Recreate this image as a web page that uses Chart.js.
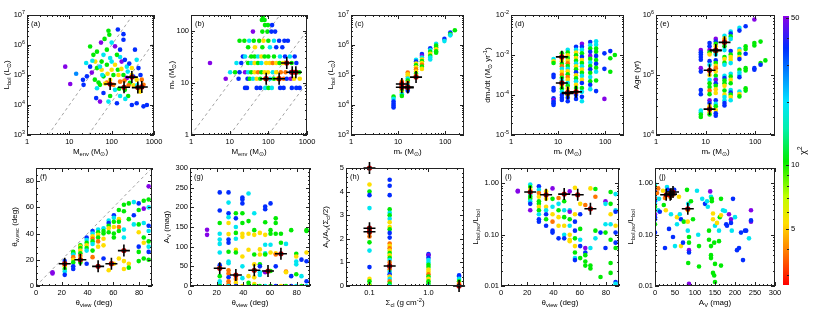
<!DOCTYPE html>
<html>
<head>
<meta charset="utf-8">
<script src="https://cdn.jsdelivr.net/npm/chart.js@4.4.1/dist/chart.umd.min.js"></script>
<style>
  body { margin: 0; background: #fff; }
  #wrap { position: relative; width: 830px; height: 318px; overflow: hidden; }
  #wrap canvas { position: absolute; }
</style>
</head>
<body>
<div id="wrap"></div>
<script>
// ---- data: [x, y, chi2] per model, best-fit models as [x, y] ----
const ptsA = [[8,1.9e5,50],[10.5,5e4,50],[14.5,1.1e5,27],[21.7,4.7e4,36],[21,6.9e4,36],[31,8.9e5,10.5],[31,1.9e5,36],[25,2.5e5,19],[34,1.2e5,50],[37,4.7e5,10.5],[41,2.8e5,5.3],[45,1.7e5,10.5],[49,5.6e4,10.5],[43,1.7e4,36],[53,1.3e4,50],[58,2.8e5,10.5],[58,1.5e5,5.3],[64,4.7e5,19],[84,3e6,10.5],[88,2.2e6,10.5],[56,1.2e6,50],[77,7e5,10.5],[92,3.7e5,19],[77,2.2e5,10.5],[100,1.5e5,5.3],[64,9e4,10.5],[77,5.6e4,3.8],[53,4.7e4,10.5],[110,4.7e4,3.8],[120,3.2e4,19],[92,2e4,10.5],[84,1.3e4,19],[133,1.15e4,36],[120,9e5,50],[158,7e5,36],[190,2.3e6,36],[190,1.5e6,36],[158,4e5,19],[172,2.8e5,50],[205,3.2e5,36],[228,1.9e5,19],[145,1e5,5.3],[190,1e5,10.5],[228,8e4,50],[270,5.5e4,10.5],[300,1e5,5.3],[158,6e4,3.8],[205,3.2e4,10.5],[245,2e4,10.5],[325,8.9e4,36],[355,7e5,36],[430,1.7e5,36],[390,3.2e5,19],[515,7e4,3.8],[565,4.7e4,3.8],[470,2.8e4,5.3],[390,1.15e4,36],[565,9e3,36],[680,1e4,36],[300,1e4,36],[53,1.9e5,19],[70,5.2e4,5.3],[92,6.9e4,5.3],[120,2.2e5,5.3],[133,4.7e5,10.5],[45,3.6e4,19],[64,2.5e4,36],[158,2e4,19],[26,9e4,36],[110,1e5,10.5],[300,1.7e5,5.3],[390,6.9e4,5.3],[40,7e4,10.5],[60,1e5,19],[80,1.1e5,5.3],[100,2.8e5,19],[140,1.5e5,10.5],[170,1.6e5,5.3],[200,6.5e4,3.8],[240,1.3e5,19],[260,2.4e5,36],[330,4.5e4,5.3],[150,3.5e4,10.5],[250,4.5e4,3.8],[400,4.5e4,19],[480,1e5,36],[35,3e5,19],[68,1.6e6,10.5],[100,1.2e6,19],[45,6e5,10.5],[140,3.3e6,36],[210,1.6e4,19]];
const bestA = [[92,5e4],[196,3.9e4],[300,8.5e4],[415,3.8e4],[515,4e4]];
const guideA = [[[3.16,1e3],[316,1e7]], [[28,1e3],[1000,1.27e6]]];

const ptsB = [[25,8,36],[28,8,36],[50,8,36],[62,8,36],[83,8,19],[101,8,10.5],[123,8,19],[202,8,36],[248,8,36],[405,8,36],[529,8,36],[645,8,36],
  [7.9,12,50],[17,12,36],[29,12,36],[33,12,10.5],[40,12,19],[50,12,5.3],[62,12,10.5],[83,12,3.8],[110,12,19],[140,12,10.5],[170,12,5.3],[190,12,5.3],[250,12,3.8],[300,12,36],[380,12,50],[460,12,5.3],[650,12,5.3],
  [10.3,16,19],[13.8,16,10.5],[18,16,36],[25,16,50],[30,16,19],[36,16,10.5],[44,16,5.3],[54,16,3.8],[66,16,10.5],[80,16,5.3],[98,16,5.3],[130,16,19],[160,16,5.3],[210,16,3.8],[280,16,3.8],[380,16,36],[500,16,3.8],[630,16,10.5],
  [3.1,24,50],[15,24,19],[20,24,36],[30,24,10.5],[36,24,19],[44,24,5.3],[54,24,10.5],[66,24,19],[88,24,5.3],[108,24,5.3],[130,24,3.8],[160,24,5.3],[195,24,10.5],[240,24,5.3],[300,24,3.8],[400,24,10.5],[530,24,36],
  [22,32,36],[25,32,19],[36,32,10.5],[44,32,10.5],[54,32,19],[66,32,5.3],[80,32,10.5],[100,32,10.5],[140,32,10.5],[200,32,19],[270,32,36],[360,32,19],[480,32,36],
  [30,48,10.5],[45,48,5.3],[70,48,10.5],[110,48,19],[160,48,36],[230,48,36],
  [18,64,10.5],[24,64,10.5],[32,64,19],[42,64,10.5],[58,64,10.5],[75,64,5.3],[100,64,10.5],[140,64,19],[190,64,36],[260,64,36],[320,64,36],
  [40,96,50],[70,96,10.5],[95,96,10.5],[120,96,36],[150,96,36],
  [82,128,10.5],[98,128,10.5],[125,128,36],[68,160,10.5],[80,160,10.5],[72,190,10.5]];
const bestB = [[88,12],[190,12],[300,24],[415,16],[515,16]];
const guideB = [[[1,1],[200,200]], [[10,1],[1000,100]], [[100,1],[1000,10]]];

const ptsC = [[8,1.9e4,10.5],[8,1.6e4,19],[8,1.3e4,36],[8,1.1e4,36],[8,9.5e3,36],[8,8.3e3,36],
  [12,6e4,3.8],[12,5.3e4,2.9],[12,4.6e4,3.8],[12,4e4,5.3],[12,3.5e4,5.3],[12,3e4,10.5],[12,2.6e4,5.3],[12,2.3e4,19],[12,2e4,10.5],
  [16,1.2e5,3.8],[16,1.05e5,5.3],[16,9e4,5.3],[16,7.6e4,19],[16,6.5e4,10.5],[16,5.5e4,3.8],[16,4.7e4,19],[16,4e4,10.5],[16,3.5e4,36],[16,3e4,36],
  [24,3.2e5,19],[24,2.8e5,36],[24,2.4e5,5.3],[24,2.1e5,10.5],[24,1.8e5,5.3],[24,1.55e5,3.8],[24,1.3e5,5.3],[24,1.1e5,10.5],[24,9.5e4,3.8],
  [32,5e5,36],[32,4.4e5,50],[32,3.8e5,19],[32,3.3e5,5.3],[32,2.9e5,10.5],[32,2.5e5,5.3],[32,2.2e5,3.8],[32,1.9e5,10.5],[32,1.6e5,5.3],
  [48,7.8e5,36],[48,6.8e5,19],[48,5.9e5,10.5],[48,5.1e5,5.3],[48,4.4e5,10.5],[48,3.8e5,19],[48,3.3e5,19],
  [64,1.1e6,19],[64,9.5e5,10.5],[64,8.3e5,10.5],[64,7.2e5,5.3],[64,6.2e5,10.5],[64,5.5e5,10.5],
  [96,1.6e6,36],[96,1.35e6,19],[128,2.6e6,36],[128,2.3e6,10.5],[128,2.1e6,19],[160,3.1e6,10.5]];
const bestC = [[12,5e4],[12,3.9e4],[24,8.5e4],[16,3.8e4],[16,4e4]];

const ptsD = [[8,7.9e-4,19],[8,7e-4,5.3],[8,6.3e-4,10.5],[8,3.2e-4,36],[8,2.8e-4,36],[8,1.5e-4,36],[8,1.3e-4,36],[8,8.3e-5,36],[8,7.5e-5,50],[8,6.8e-5,36],[8,6.2e-5,36],[8,5.6e-5,36],
  [12,1.1e-3,10.5],[12,9.5e-4,5.3],[12,8.2e-4,3.8],[12,7e-4,5.3],[12,6e-4,10.5],[12,5.2e-4,3.8],[12,4.5e-4,19],[12,3.8e-4,5.3],[12,3.2e-4,3.8],[12,2.7e-4,10.5],[12,2.3e-4,19],[12,2e-4,36],[12,1.7e-4,5.3],[12,1.45e-4,10.5],[12,1.2e-4,19],[12,1e-4,36],[12,8.5e-5,36],[12,7.5e-5,36],
  [16,1.35e-3,19],[16,1.15e-3,10.5],[16,9.8e-4,5.3],[16,8.4e-4,10.5],[16,7.2e-4,5.3],[16,6.2e-4,3.8],[16,5.3e-4,10.5],[16,4.5e-4,19],[16,3.9e-4,5.3],[16,3.3e-4,10.5],[16,2.8e-4,3.8],[16,2.4e-4,5.3],[16,2e-4,19],[16,1.7e-4,10.5],[16,1.45e-4,5.3],[16,1.2e-4,3.8],[16,1e-4,10.5],[16,8.5e-5,36],[16,7e-5,36],
  [24,1.6e-3,36],[24,1.35e-3,19],[24,1.15e-3,5.3],[24,9.8e-4,10.5],[24,8.4e-4,5.3],[24,7.2e-4,10.5],[24,6.1e-4,19],[24,5.2e-4,5.3],[24,4.4e-4,10.5],[24,3.7e-4,36],[24,3.1e-4,5.3],[24,2.6e-4,10.5],[24,2.2e-4,19],[24,1.8e-4,5.3],[24,1.5e-4,10.5],[24,1.25e-4,3.8],[24,1e-4,36],[24,8e-5,36],
  [32,1.9e-3,50],[32,1.6e-3,36],[32,1.35e-3,19],[32,1.1e-3,10.5],[32,9e-4,36],[32,7.5e-4,5.3],[32,6.3e-4,10.5],[32,5.2e-4,19],[32,4.3e-4,5.3],[32,3.6e-4,10.5],[32,3e-4,19],[32,2.4e-4,5.3],[32,2e-4,36],[32,1.5e-4,10.5],[32,1.2e-4,19],[32,9e-5,36],[32,7e-5,19],
  [48,2.1e-3,36],[48,1.75e-3,19],[48,1.45e-3,10.5],[48,1.2e-3,36],[48,9.5e-4,50],[48,8e-4,10.5],[48,6.5e-4,19],[48,5.3e-4,10.5],[48,4.4e-4,36],[48,3.6e-4,10.5],[48,2.8e-4,19],[48,2.2e-4,10.5],[48,1.8e-4,36],[48,1.4e-4,19],
  [64,2.2e-3,19],[64,1.8e-3,19],[64,1.45e-3,10.5],[64,1.2e-3,10.5],[64,9.5e-4,36],[64,7.5e-4,10.5],[64,6e-4,36],[64,4.8e-4,10.5],[64,3.8e-4,19],[64,2.3e-4,10.5],[64,1.25e-4,36],
  [96,1.1e-3,36],[96,4.5e-4,36],[96,8e-5,50],[128,1.25e-3,36],[128,8.3e-4,10.5],[128,3.8e-4,10.5],[160,1e-3,10.5]];
const bestD = [[12,9e-4],[12,2e-4],[16,1.15e-4],[16,1.1e-4],[24,1.2e-4]];

const ptsE = [[8,2.6e5,50],[8,2.4e5,36],[8,2.2e5,36],[8,2.0e5,36],[8,1.8e5,36],[8,1.3e5,50],[8,1.14e5,36],[8,5.6e4,36],[8,4.8e4,36],[8,2.55e4,19],[8,2.4e4,19],[8,2.2e4,10.5],[8,2.0e4,10.5],
  [12,3.4e5,36],[12,3.0e5,36],[12,2.6e5,50],[12,2.4e5,10.5],[12,2.2e5,5.3],[12,1.7e5,36],[12,1.48e5,19],[12,1.19e5,3.8],[12,1.0e5,5.3],[12,8.3e4,19],[12,7.3e4,10.5],[12,6.3e4,10.5],[12,5.5e4,3.8],[12,4.8e4,10.5],[12,3.8e4,50],[12,3.4e4,36],[12,3.0e4,5.3],[12,2.7e4,3.8],[12,2.4e4,5.3],[12,2.2e4,10.5],
  [16,4.0e5,50],[16,3.6e5,36],[16,3.3e5,10.5],[16,3.0e5,5.3],[16,2.6e5,3.8],[16,2.4e5,10.5],[16,2.2e5,19],[16,1.75e5,36],[16,1.58e5,10.5],[16,1.42e5,5.3],[16,1.3e5,3.8],[16,1.14e5,5.3],[16,9.7e4,10.5],[16,8.5e4,19],[16,8.3e4,50],[16,7.3e4,36],[16,6.6e4,10.5],[16,5.8e4,5.3],[16,5.0e4,5.3],[16,3.8e4,36],[16,3.3e4,19],[16,3.0e4,10.5],[16,2.6e4,5.3],[16,2.3e4,36],[16,2.1e4,36],
  [24,4.5e5,19],[24,4.1e5,5.3],[24,3.8e5,3.8],[24,3.4e5,10.5],[24,3.0e5,10.5],[24,2.6e5,19],[24,2.0e5,10.5],[24,1.84e5,5.3],[24,1.6e5,10.5],[24,1.48e5,19],[24,9.7e4,19],[24,8.9e4,36],[24,8.1e4,10.5],[24,7.3e4,10.5],[24,6.6e4,5.3],[24,5.5e4,10.5],[24,4.7e4,5.3],[24,4.3e4,19],[24,3.8e4,19],[24,3.4e4,36],[24,3.1e4,36],
  [32,5.3e5,19],[32,4.9e5,36],[32,4.4e5,10.5],[32,4.0e5,19],[32,2.5e5,36],[32,2.2e5,10.5],[32,2.0e5,5.3],[32,1.8e5,5.3],[32,1.58e5,19],[32,1.05e5,19],[32,9.4e4,10.5],[32,8.3e4,5.3],[32,7.3e4,10.5],[32,5.6e4,19],[32,5.1e4,36],[32,4.7e4,10.5],[32,4.3e4,5.3],[32,3.8e4,19],
  [48,6.1e5,19],[48,5.5e5,36],[48,2.7e5,19],[48,2.5e5,5.3],[48,2.26e5,10.5],[48,2.0e5,5.3],[48,1.84e5,36],[48,1.22e5,10.5],[48,1.1e5,19],[48,1.0e5,19],[48,9.2e4,36],[48,5.3e4,19],[48,4.8e4,5.3],[48,4.4e4,10.5],
  [64,6.5e5,36],[64,3.0e5,10.5],[64,2.7e5,10.5],[64,2.26e5,36],[64,1.3e5,10.5],[64,1.19e5,10.5],[64,6.0e4,10.5],[64,5.5e4,10.5],
  [96,8.4e5,50],[96,3.4e5,10.5],[96,3.1e5,10.5],[96,1.3e5,36],[96,1.22e5,36],[128,3.6e5,10.5],[128,1.58e5,10.5],[128,1.48e5,36],[160,1.75e5,10.5]];
const bestE = [[12,1.2e5],[16,2.6e5],[24,3.5e5],[12,2.7e4],[16,2.55e5]];

const ptsF = [[12.8,10.5,50],[12.8,9.5,50],
  [22.3,19,36],[22.3,17,10.5],[22.3,15,5.3],[22.3,13,10.5],[22.3,11,19],[22.3,8.5,36],
  [28.9,26,10.5],[28.9,25,10.5],[28.9,24,19],[28.9,22,3.8],[28.9,20,5.3],[28.9,18,10.5],[28.9,15,36],[28.9,13,36],
  [34.4,31,10.5],[34.4,30,5.3],[34.4,29,10.5],[34.4,27,5.3],[34.4,25,10.5],[34.4,23,3.8],[34.4,21,5.3],[34.4,19,5.3],[34.4,18,10.5],
  [39.3,37,36],[39.3,35,19],[39.3,33,10.5],[39.3,31,5.3],[39.3,29,10.5],[39.3,27,19],[39.3,17,36],
  [43.9,42,36],[43.9,40,19],[43.9,38,5.3],[43.9,36,3.8],[43.9,34,10.5],[43.9,32,19],[43.9,27,10.5],[43.9,22,3.8],
  [48.2,43,19],[48.2,41,10.5],[48.2,39,5.3],[48.2,37,10.5],[48.2,34,3.8],[48.2,30,5.3],
  [52.4,44,19],[52.4,42,10.5],[52.4,40,10.5],[52.4,36,5.3],[52.4,31,5.3],[52.4,21,36],
  [56.4,50,19],[56.4,48,36],[56.4,46,10.5],[56.4,44,5.3],[56.4,41,10.5],[56.4,12,5.3],
  [60.4,54,36],[60.4,52,19],[60.4,49,10.5],[60.4,45,5.3],[60.4,40,10.5],[60.4,37,10.5],[60.4,17,5.3],
  [64.3,58,10.5],[64.3,51,5.3],[64.3,49,10.5],[64.3,45,3.8],[64.3,42,10.5],[64.3,21,5.3],
  [68.2,62,10.5],[68.2,57,10.5],[68.2,43,19],[68.2,37,19],[68.2,19,5.3],[68.2,13,5.3],
  [72,63,10.5],[72,51,10.5],[72,17,5.3],[72,14,10.5],[75.9,64,19],[75.9,54,36],[75.9,47,19],
  [79.7,63,36],[79.7,58,10.5],[79.7,47,10.5],[79.7,41,5.3],[79.7,30,36],[79.7,26,10.5],[79.7,19,10.5],
  [83.6,65,10.5],[83.6,59,50],[83.6,48,19],[83.6,37,10.5],[83.6,33,5.3],[83.6,21,10.5],
  [87.4,76,50],[87.4,66,10.5],[87.4,60,19],[87.4,46,36],[87.4,42,19],[87.4,34,10.5],[87.4,30,19],[87.4,26,36],[87.4,20,10.5]];
const bestF = [[22.3,17],[34.4,20],[48.2,15],[58.5,17],[68.2,27]];
const guideF = [[[0,0],[90,90]]];

const ptsG = [[12.8,143,50],[12.8,130,50],
  [22.3,238,36],[22.3,192,36],[22.3,160,10.5],[22.3,133,19],[22.3,118,19],[22.3,107,19],[22.3,85,19],[22.3,53,36],[22.3,45,3.8],[22.3,25,10.5],[22.3,12,19],[22.3,5,19],[22.3,0,10.5],
  [28.9,238,36],[28.9,212,19],[28.9,185,36],[28.9,175,19],[28.9,160,5.3],[28.9,132,5.3],[28.9,118,36],[28.9,110,36],[28.9,87,10.5],[28.9,62,19],[28.9,58,19],[28.9,40,3.8],[28.9,32,3.8],[28.9,22,36],[28.9,12,3.8],[28.9,5,3.8],[28.9,0,19],
  [34.4,185,10.5],[34.4,172,36],[34.4,150,19],[34.4,135,10.5],[34.4,120,19],[34.4,92,5.3],[34.4,85,10.5],[34.4,28,3.8],[34.4,18,3.8],[34.4,8,5.3],[34.4,0,36],
  [39.3,225,36],[39.3,220,36],[39.3,210,36],[39.3,185,10.5],[39.3,160,10.5],[39.3,133,5.3],[39.3,125,5.3],[39.3,75,5.3],[39.3,50,19],[39.3,20,19],[39.3,0,5.3],
  [43.9,235,19],[43.9,165,10.5],[43.9,133,5.3],[43.9,92,5.3],[43.9,25,5.3],[43.9,8,10.5],[43.9,0,10.5],
  [48.2,185,19],[48.2,142,10.5],[48.2,130,5.3],[48.2,80,10.5],[48.2,55,5.3],[48.2,40,19],[48.2,22,5.3],[48.2,5,5.3],[48.2,0,10.5],
  [52.4,135,5.3],[52.4,93,5.3],[52.4,80,5.3],[52.4,55,10.5],[52.4,50,36],[52.4,35,19],[52.4,28,19],[52.4,0,10.5],
  [56.4,202,36],[56.4,195,36],[56.4,162,10.5],[56.4,130,5.3],[56.4,105,19],[56.4,83,19],[56.4,80,10.5],[56.4,35,50],[56.4,0,19],
  [60.4,210,36],[60.4,142,10.5],[60.4,133,10.5],[60.4,105,19],[60.4,85,5.3],[60.4,38,10.5],[60.4,0,10.5],
  [64.3,172,10.5],[64.3,160,10.5],[64.3,133,10.5],[64.3,83,5.3],[64.3,80,3.8],[64.3,50,36],[64.3,0,36],
  [68.2,133,10.5],[68.2,110,10.5],[68.2,82,36],[68.2,0,5.3],[72,107,19],[72,37,3.8],[72,35,5.3],[72,0,10.5],
  [75.9,142,10.5],[75.9,25,36],[75.9,0,36],[79.7,82,10.5],[79.7,75,5.3],[79.7,62,19],[79.7,55,19],[79.7,30,10.5],[79.7,0,19],
  [83.6,67,36],[83.6,25,19],[83.6,0,10.5],[87.4,142,10.5],[87.4,140,10.5],[87.4,85,5.3],[87.4,63,36],[87.4,12,36],[87.4,0,19]];
const bestG = [[22.3,45],[34.4,28],[48.2,40],[58.5,38],[68.2,82]];

const ptsH = [[0.1,5,3.8],[0.1,4.3,5.3],[0.1,4,10.5],[0.1,3.85,36],[0.1,3.3,19],[0.1,2.25,3.8],[0.1,2.1,3.8],[0.1,1.85,10.5],[0.1,1.5,19],[0.1,0.8,36],[0.1,0.3,5.3],[0.1,0.2,10.5],[0.1,0.05,10.5],[0.1,0,5.3],
  [0.22,4.5,36],[0.22,4.25,36],[0.22,3.85,36],[0.22,3.25,10.5],[0.22,3.1,19],[0.22,3,10.5],[0.22,2.85,19],[0.22,2.7,5.3],[0.22,2.5,5.3],[0.22,2.4,10.5],[0.22,2.25,36],[0.22,2.05,36],[0.22,1.8,3.8],[0.22,1.7,5.3],[0.22,1.6,3.8],[0.22,1.5,5.3],[0.22,1.4,10.5],[0.22,1.3,5.3],[0.22,1.2,10.5],[0.22,1.1,19],[0.22,1,3.8],[0.22,0.8,36],[0.22,0.7,3.8],[0.22,0.6,19],[0.22,0.5,36],[0.22,0.4,5.3],[0.22,0.3,19],[0.22,0.2,3.8],[0.22,0.1,10.5],[0.22,0,19],
  [1,1.35,36],[1,1.3,50],[1,1.2,36],[1,1.1,19],[1,1,19],[1,0.9,10.5],[1,0.8,10.5],[1,0.7,5.3],[1,0.6,5.3],[1,0.5,3.8],[1,0.4,10.5],[1,0.3,5.3],[1,0.2,10.5],[1,0.1,10.5],[1,0,19],
  [3.3,0.45,36],[3.3,0.4,36],[3.3,0.3,19],[3.3,0.2,10.5],[3.3,0.1,3.8],[3.3,0.05,3.8],[3.3,0,2.9]];
const bestH = [[0.1,5],[0.1,2.45],[0.1,2.3],[0.22,0.85],[3.3,0]];

const ptsI = [[12.8,0.72,50],[12.8,0.7,50],
  [22.3,0.95,19],[22.3,0.85,10.5],[22.3,0.75,5.3],[22.3,0.6,19],[22.3,0.55,10.5],[22.3,0.5,10.5],[22.3,0.45,19],[22.3,0.4,36],[22.3,0.3,50],
  [28.9,0.88,36],[28.9,0.75,19],[28.9,0.65,3.8],[28.9,0.55,5.3],[28.9,0.45,10.5],[28.9,0.4,10.5],[28.9,0.35,5.3],[28.9,0.3,10.5],[28.9,0.25,19],[28.9,0.2,36],[28.9,0.18,36],
  [34.4,0.7,5.3],[34.4,0.5,5.3],[34.4,0.35,5.3],[34.4,0.3,19],[34.4,0.25,36],[34.4,0.2,10.5],[34.4,0.15,36],
  [39.3,0.8,50],[39.3,0.5,10.5],[39.3,0.35,19],[39.3,0.25,5.3],[39.3,0.18,3.8],[39.3,0.12,36],[39.3,0.11,36],
  [43.9,0.52,3.8],[43.9,0.4,19],[43.9,0.3,10.5],[43.9,0.22,5.3],[43.9,0.15,5.3],[43.9,0.085,36],
  [48.2,0.45,10.5],[48.2,0.3,19],[48.2,0.22,10.5],[48.2,0.15,5.3],[48.2,0.1,19],[48.2,0.085,36],
  [52.4,0.7,50],[52.4,0.3,19],[52.4,0.28,50],[52.4,0.2,10.5],[52.4,0.15,19],[52.4,0.1,5.3],[52.4,0.08,5.3],[52.4,0.075,5.3],
  [56.4,0.82,5.3],[56.4,0.25,5.3],[56.4,0.18,36],[56.4,0.12,36],[56.4,0.085,10.5],[56.4,0.06,5.3],[56.4,0.045,10.5],[56.4,0.035,19],[56.4,0.032,36],
  [60.4,0.4,5.3],[60.4,0.25,36],[60.4,0.13,10.5],[60.4,0.08,19],[60.4,0.06,36],[60.4,0.035,10.5],
  [64.3,0.38,3.8],[64.3,0.055,50],[64.3,0.045,36],[64.3,0.04,10.5],[64.3,0.03,10.5],[64.3,0.025,10.5],
  [68.2,0.8,5.3],[68.2,0.055,19],[68.2,0.025,10.5],[68.2,0.022,10.5],[72,0.78,10.5],[72,0.55,3.8],[72,0.12,10.5],[72,0.085,19],
  [75.9,0.11,36],[75.9,0.015,10.5],[79.7,0.45,50],[79.7,0.4,19],[79.7,0.16,19],[79.7,0.11,10.5],[79.7,0.055,36],
  [83.6,0.68,10.5],[83.6,0.4,10.5],[83.6,0.25,5.3],[83.6,0.16,19],[83.6,0.08,10.5],[83.6,0.028,10.5],[83.6,0.018,10.5],
  [87.4,0.62,19],[87.4,0.3,19],[87.4,0.28,36],[87.4,0.15,5.3],[87.4,0.11,36],[87.4,0.07,36],[87.4,0.055,10.5],[87.4,0.012,36],[87.4,0.011,19]];
const bestI = [[22.3,0.68],[34.4,0.6],[48.2,0.62],[58.5,0.6],[68.2,0.32]];

const ptsJ = [[0,0.95,19],[0,0.85,10.5],[0,0.75,36],[0,0.65,3.8],[0,0.55,19],[0,0.5,2.9],[0,0.45,36],[0,0.4,19],[0,0.35,10.5],[0,0.3,5.3],[0,0.25,50],[0,0.22,36],[0,0.2,36],[0,0.16,10.5],[0,0.11,36],
  [5,0.65,3.8],[8,0.8,3.8],[8,0.3,19],[10,0.5,19],[12,0.28,36],[20,0.72,5.3],[22,0.38,10.5],[25,0.52,3.8],[25,0.055,36],[27,0.3,5.3],[30,0.85,19],[32,0.75,36],[35,0.6,3.8],[35,0.13,36],
  [38,0.55,3.8],[40,0.65,3.8],[42,0.7,3.8],[45,0.6,3.8],[45,0.09,36],[40,0.25,19],[48,0.75,36],[50,0.06,19],[55,0.22,5.3],[55,0.16,19],[60,0.55,5.3],[62,0.25,19],[65,0.2,36],[65,0.06,5.3],
  [70,0.07,36],[72,0.18,10.5],[80,0.75,10.5],[82,0.3,5.3],[82,0.18,5.3],[82,0.12,19],[83,0.4,19],[85,0.09,10.5],[85,0.05,50],[85,0.045,36],[83,0.028,10.5],[85,0.011,50],[90,0.45,10.5],[85,0.07,10.5],
  [95,0.2,10.5],[105,0.72,19],[108,0.1,19],[110,0.06,10.5],[110,0.024,10.5],[118,0.5,19],[125,0.4,36],[130,0.45,19],[132,0.35,19],[135,0.12,10.5],[135,0.08,10.5],[138,0.7,50],
  [140,0.55,19],[140,0.06,10.5],[140,0.04,10.5],[140,0.035,10.5],[142,0.5,10.5],[142,0.45,10.5],[145,0.26,5.3],[145,0.2,5.3],[150,0.15,19],[148,0.07,10.5],[150,0.027,10.5],[145,0.018,10.5],
  [148,0.016,10.5],[150,0.012,10.5],[155,0.17,5.3],[160,0.075,10.5],[160,0.12,19],[162,0.22,10.5],[165,0.5,10.5],[165,0.24,5.3],[165,0.025,10.5],[170,0.3,19],[175,0.29,19],[178,0.16,36],
  [180,0.15,36],[185,0.25,50],[190,0.2,50],[190,0.17,36],[192,0.12,19],[195,0.5,36],[200,0.22,19],[205,0.05,36],[210,0.055,36],[215,0.11,36],[225,0.12,36],[228,0.12,36],[235,0.085,19],
  [240,0.3,50],[240,0.18,50],[240,0.19,36],[220,0.032,36]];
const bestJ = [[45,0.68],[28,0.6],[40,0.62],[38,0.6],[82,0.32]];

// colour bar range and tick values
const chiRange = [2.7, 51];
const chiTicks = [5, 10, 50];
const chiMinor = [3, 4, 6, 7, 8, 9, 20, 30, 40];

// ---- styling helpers ----
const FONT = '"Liberation Sans", Arial, sans-serif';
const CMAP = [[0,255,0,0],[0.12,255,120,0],[0.23,255,222,0],[0.33,190,255,0],[0.46,0,235,0],[0.58,0,240,170],[0.68,0,228,255],[0.78,0,140,255],[0.88,0,45,255],[1,140,0,230]];

function chiColor(c) {
  let t = Math.log(c / chiRange[0]) / Math.log(chiRange[1] / chiRange[0]);
  t = Math.max(0, Math.min(1, t));
  for (let i = 1; i < CMAP.length; i++) {
    if (t <= CMAP[i][0]) {
      const a = CMAP[i - 1], b = CMAP[i], f = (t - a[0]) / (b[0] - a[0]);
      const ch = k => Math.round(a[k] + (b[k] - a[k]) * f);
      return `rgb(${ch(1)},${ch(2)},${ch(3)})`;
    }
  }
  return 'rgb(140,0,230)';
}

function logMinor(min, max) {
  const out = [];
  for (let e = Math.floor(Math.log10(min)); e <= Math.ceil(Math.log10(max)); e++)
    for (let m = 2; m <= 9; m++) {
      const v = m * Math.pow(10, e);
      if (v > min && v < max) out.push(v);
    }
  return out;
}
function linMinor(min, max, step) {
  const out = [];
  for (let v = min; v <= max + 1e-9; v += step) out.push(v);
  return out;
}
const pow10 = (a, b) => { const o = []; for (let e = a; e <= b; e++) o.push([Math.pow(10, e), '10^{' + e + '}']); return o; };
const plain = vals => vals.map(v => [v, String(v)]);

function parseRich(s) {
  const parts = []; let buf = '', i = 0;
  while (i < s.length) {
    const ch = s[i];
    if ((ch === '_' || ch === '^') && s[i + 1] === '{') {
      if (buf) parts.push([buf, 0]);
      buf = '';
      const end = s.indexOf('}', i);
      parts.push([s.slice(i + 2, end), ch === '_' ? -1 : 1]);
      i = end + 1;
    } else { buf += ch; i++; }
  }
  if (buf) parts.push([buf, 0]);
  return parts;
}
function drawRich(ctx, s, x, y, size, align, rot) {
  const parts = parseRich(s), small = size * 0.72;
  const w = parts.map(([t, k]) => { ctx.font = (k ? small : size) + 'px ' + FONT; return ctx.measureText(t).width; });
  const total = w.reduce((p, q) => p + q, 0);
  ctx.save();
  ctx.translate(x, y);
  if (rot) ctx.rotate(rot);
  let cx = align === 'right' ? -total : align === 'left' ? 0 : -total / 2;
  ctx.textBaseline = 'middle'; ctx.textAlign = 'left'; ctx.fillStyle = '#000';
  parts.forEach(([t, k], i) => {
    ctx.font = (k ? small : size) + 'px ' + FONT;
    ctx.fillText(t, cx, k < 0 ? size * 0.3 : k > 0 ? -size * 0.38 : 0);
    cx += w[i];
  });
  ctx.restore();
}

const LOGX_MSTAR = { type: 'logarithmic', min: 1, max: 250, major: plain([1, 10, 100]) };
const LOGX_MENV = { type: 'logarithmic', min: 1, max: 1000, major: plain([1, 10, 100, 1000]) };
const LINX_VIEW = { type: 'linear', min: 0, max: 90, major: plain([0, 20, 40, 60, 80]), step: 5 };
const LOGY_RATIO = { type: 'logarithmic', min: 0.01, max: 2, major: [[1, '1.00'], [0.1, '0.10'], [0.01, '0.01']] };

const panels = [
  { id: 'a', box: [27, 15, 154, 135], x: LOGX_MENV, y: { type: 'logarithmic', min: 1e3, max: 1e7, major: pow10(3, 7) },
    xt: 'M_{env} (M_{⊙})', yt: 'L_{bol} (L_{⊙})', yOff: 20, pts: ptsA, best: bestA, guides: guideA },
  { id: 'b', box: [191, 15, 307, 135], x: LOGX_MENV, y: { type: 'logarithmic', min: 1, max: 200, major: plain([1, 10, 100]) },
    xt: 'M_{env} (M_{⊙})', yt: 'm_{*} (M_{⊙})', yOff: 19, pts: ptsB, best: bestB, guides: guideB },
  { id: 'c', box: [351, 15, 464, 135], x: LOGX_MSTAR, y: { type: 'logarithmic', min: 1e3, max: 1e7, major: pow10(3, 7) },
    xt: 'm_{*} (M_{⊙})', yt: 'L_{bol} (L_{⊙})', yOff: 20, pts: ptsC, best: bestC },
  { id: 'd', box: [511, 15, 624, 135], x: LOGX_MSTAR, y: { type: 'logarithmic', min: 1e-5, max: 1e-2, major: pow10(-5, -2) },
    xt: 'm_{*} (M_{⊙})', yt: 'dm_{*}/dt (M_{⊙} yr^{-1})', yOff: 23, pts: ptsD, best: bestD },
  { id: 'e', box: [656, 15, 775, 135], x: LOGX_MSTAR, y: { type: 'logarithmic', min: 1e4, max: 1e6, major: pow10(4, 6) },
    xt: 'm_{*} (M_{⊙})', yt: 'Age (yr)', yOff: 19, pts: ptsE, best: bestE },
  { id: 'f', box: [36, 168, 152, 286], x: LINX_VIEW, y: { type: 'linear', min: 0, max: 90, major: plain([0, 20, 40, 60, 80]), step: 5 },
    xt: 'θ_{view} (deg)', yt: 'θ_{w,esc} (deg)', yOff: 21, pts: ptsF, best: bestF, guides: guideF },
  { id: 'g', box: [190, 168, 310, 286], x: LINX_VIEW, y: { type: 'linear', min: 0, max: 300, major: plain([0, 50, 100, 150, 200, 250, 300]), step: 10 },
    xt: 'θ_{view} (deg)', yt: 'A_{V} (mag)', yOff: 23, pts: ptsG, best: bestG },
  { id: 'h', box: [346, 168, 464, 286], x: { type: 'logarithmic', min: 0.04, max: 4, major: [[0.1, '0.1'], [1, '1.0']] },
    y: { type: 'linear', min: 0, max: 5, major: plain([0, 1, 2, 3, 4, 5]), step: 0.2 },
    xt: 'Σ_{cl} (g cm^{-2})', yt: 'A_{V}/A_{V}(Σ_{cl}/2)', yOff: 20, pts: ptsH, best: bestH },
  { id: 'i', box: [501, 168, 619, 286], x: LINX_VIEW, y: LOGY_RATIO,
    xt: 'θ_{view} (deg)', yt: 'L_{bol,iso}/L_{bol}', yOff: 25, pts: ptsI, best: bestI },
  { id: 'j', box: [655, 168, 775, 286], x: { type: 'linear', min: 0, max: 300, major: plain([0, 50, 100, 150, 200, 250, 300]), step: 10 }, y: LOGY_RATIO,
    xt: 'A_{V} (mag)', yt: 'L_{bol,iso}/L_{bol}', yOff: 24, pts: ptsJ, best: bestJ }
];

const PAD = { left: 34, right: 14, top: 8, bottom: 26 };
const specs = {};

const idlPlugin = {
  id: 'idlFrame',
  afterDraw(chart) {
    const p = specs[chart.canvas.id];
    if (!p) return;
    const { ctx, chartArea: a } = chart;
    const xs = chart.scales.x, ys = chart.scales.y;
    const minorOf = ax => ax.type === 'logarithmic' ? logMinor(ax.min, ax.max) : linMinor(ax.min, ax.max, ax.step);
    ctx.save();
    ctx.strokeStyle = '#222';
    ctx.lineWidth = 1;
    ctx.beginPath();
    const tickX = (v, len) => {
      const px = Math.round(xs.getPixelForValue(v)) + 0.5;
      ctx.moveTo(px, a.bottom); ctx.lineTo(px, a.bottom - len);
      ctx.moveTo(px, a.top); ctx.lineTo(px, a.top + len);
    };
    const tickY = (v, len) => {
      const py = Math.round(ys.getPixelForValue(v)) + 0.5;
      ctx.moveTo(a.left, py); ctx.lineTo(a.left + len, py);
      ctx.moveTo(a.right, py); ctx.lineTo(a.right - len, py);
    };
    minorOf(p.x).forEach(v => tickX(v, 2));
    minorOf(p.y).forEach(v => tickY(v, 2));
    p.x.major.forEach(([v]) => tickX(v, 4));
    p.y.major.forEach(([v]) => tickY(v, 4));
    ctx.stroke();
    ctx.strokeRect(a.left + 0.5, a.top + 0.5, a.right - a.left - 1, a.bottom - a.top - 1);
    p.x.major.forEach(([v, lab]) => drawRich(ctx, lab, xs.getPixelForValue(v), a.bottom + 7, 7.5, 'center'));
    p.y.major.forEach(([v, lab]) => drawRich(ctx, lab, a.left - 2, ys.getPixelForValue(v), 7.5, 'right'));
    drawRich(ctx, p.xt, (a.left + a.right) / 2, a.bottom + 17, 8, 'center');
    drawRich(ctx, p.yt, a.left - p.yOff, (a.top + a.bottom) / 2, 8, 'center', -Math.PI / 2);
    drawRich(ctx, '(' + p.id + ')', a.left + 4, a.top + 9, 7.5, 'left');
    ctx.restore();
  }
};

const wrap = document.getElementById('wrap');
const xy = arr => arr.map(q => ({ x: q[0], y: q[1] }));

panels.forEach(p => {
  const [l, t, r, b] = p.box;
  const cv = document.createElement('canvas');
  cv.id = 'panel-' + p.id;
  cv.width = (r - l) + PAD.left + PAD.right;
  cv.height = (b - t) + PAD.top + PAD.bottom;
  cv.style.left = (l - PAD.left) + 'px';
  cv.style.top = (t - PAD.top) + 'px';
  wrap.appendChild(cv);
  specs[cv.id] = p;

  const datasets = [
    { data: xy(p.best), pointStyle: 'cross', pointRadius: 6, borderColor: '#000', borderWidth: 1.6, clip: false, order: 0 },
    { data: xy(p.best), pointRadius: 2.6, backgroundColor: '#c40000', borderWidth: 0, clip: false, order: 1 },
    { data: xy(p.pts), pointRadius: 2.3, backgroundColor: p.pts.map(q => chiColor(q[2])), borderWidth: 0, order: 2 }
  ];
  (p.guides || []).forEach(g => datasets.push({
    type: 'line', data: xy(g), borderColor: '#8a8a8a', borderWidth: 0.8, borderDash: [3, 3], pointRadius: 0, fill: false, order: 3
  }));

  new Chart(cv, {
    type: 'scatter',
    data: { datasets },
    options: {
      responsive: false, animation: false, events: [],
      layout: { padding: PAD },
      plugins: { legend: { display: false }, tooltip: { enabled: false } },
      scales: {
        x: { type: p.x.type, min: p.x.min, max: p.x.max, display: false },
        y: { type: p.y.type, min: p.y.min, max: p.y.max, display: false }
      }
    },
    plugins: [idlPlugin]
  });
});

// ---- colour bar ----
const cb = document.createElement('canvas');
cb.width = 52; cb.height = 290;
cb.style.left = '778px'; cb.style.top = '8px';
wrap.appendChild(cb);
new Chart(cb, {
  type: 'scatter',
  data: { datasets: [{ data: [] }] },
  options: {
    responsive: false, animation: false, events: [],
    layout: { padding: { left: 5, right: 41, top: 8, bottom: 13 } },
    plugins: { legend: { display: false }, tooltip: { enabled: false } },
    scales: {
      x: { type: 'linear', min: 0, max: 1, display: false },
      y: { type: 'logarithmic', min: chiRange[0], max: chiRange[1], display: false }
    }
  },
  plugins: [{
    id: 'colourBar',
    afterDraw(chart) {
      const { ctx, chartArea: a } = chart, ys = chart.scales.y;
      ctx.save();
      for (let py = a.top; py < a.bottom; py++) {
        ctx.fillStyle = chiColor(ys.getValueForPixel(py + 0.5));
        ctx.fillRect(a.left, py, a.right - a.left, 1);
      }
      ctx.strokeStyle = '#222'; ctx.lineWidth = 1;
      ctx.beginPath();
      chiMinor.forEach(v => { const y = Math.round(ys.getPixelForValue(v)) + 0.5; ctx.moveTo(a.right, y); ctx.lineTo(a.right - 2, y); });
      chiTicks.forEach(v => { const y = Math.round(ys.getPixelForValue(v)) + 0.5; ctx.moveTo(a.right, y); ctx.lineTo(a.right - 3, y); });
      ctx.stroke();
      chiTicks.forEach(v => drawRich(ctx, String(v), a.right + 2, ys.getPixelForValue(v), 7.5, 'left'));
      drawRich(ctx, 'χ^{2}', a.right + 15, (a.top + a.bottom) / 2, 9, 'center', -Math.PI / 2);
      ctx.restore();
    }
  }]
});
</script>
</body>
</html>
